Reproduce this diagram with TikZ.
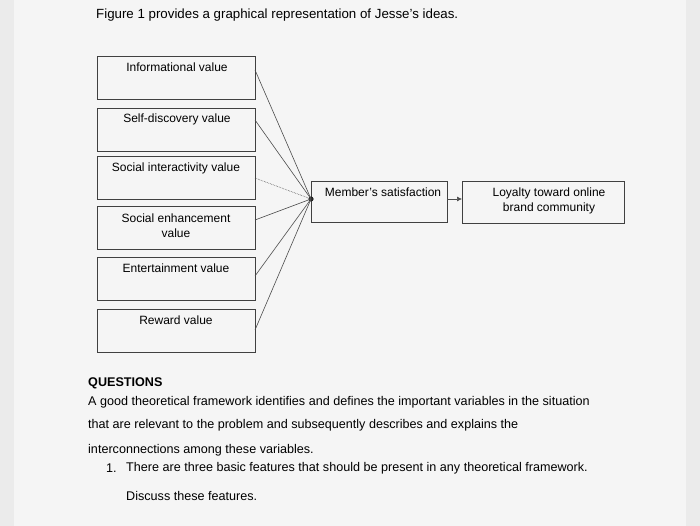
\documentclass[tikz,border=0pt]{standalone}
\usepackage{fontspec}
\setmainfont{Liberation Sans}
\usetikzlibrary{arrows.meta}
\begin{document}
\begin{tikzpicture}[x=1pt,y=-1pt,
  vbox/.style={draw=black!75,line width=0.8pt},
  lbl/.style={font=\fontsize{12}{15}\selectfont,align=center,inner sep=0pt},
  txt/.style={font=\fontsize{12.6}{15}\selectfont,anchor=west,inner sep=0pt},
  conn/.style={draw=black!70,line width=0.6pt}]
\fill[black!8] (0,0) rectangle (700,526);
\fill[white!96!black] (14,0) rectangle (686,526);
\node[txt,font=\fontsize{13.3}{15}\selectfont] (title) at (96,15) {Figure 1 provides a graphical representation of Jesse's ideas.};
\foreach \n/\y in {a/56,b/108,c/156,d/206,e/257,f/309}{
  \draw[vbox] (97,\y) rectangle (255,\y+43);
  \coordinate (\n) at (255,\y+22);
}
\node[lbl] (la) at (177,67) {Informational value};
\node[lbl] (lb) at (177,119) {Self-discovery value};
\node[lbl] (lc) at (176,168) {Social interactivity value};
\node[lbl] (ld) at (176,226) {Social enhancement\\value};
\node[lbl] (le) at (176,268) {Entertainment value};
\node[lbl] (lf) at (176,320) {Reward value};
\draw[vbox] (311,181) rectangle (447,222);
\node[lbl] (ms) at (383,192) {Member's satisfaction};
\draw[vbox] (462,181) rectangle (624,223);
\node[lbl] (loy) at (549,201) {Loyalty toward online\\brand community};
\coordinate (hub) at (311,199);
\fill[black!85] (hub) circle (2.6);
\foreach \n/\yy in {a/70,b/120,d/220,e/276,f/330}{
  \coordinate (s\n) at (255,\yy);
  \draw[conn] (s\n) -- (hub);
}
\coordinate (sc) at (255,178);
\draw[conn,densely dotted] (sc) -- (hub);
\coordinate (m1) at (447,199); \coordinate (m2) at (462,199);
\draw[conn,-{Latex[length=5pt,width=5pt]}] (m1) -- (m2);
\node[txt,font=\bfseries\fontsize{12.6}{15}\selectfont] (q) at (88,383) {QUESTIONS};
\node[txt] (p1) at (88,402) {A good theoretical framework identifies and defines the important variables in the situation};
\node[txt] (p2) at (88,425) {that are relevant to the problem and subsequently describes and explains the};
\node[txt] (p3) at (88,450) {interconnections among these variables.};
\node[txt] (n1) at (106,468) {1.};
\node[txt] (p4) at (126,468) {There are three basic features that should be present in any theoretical framework.};
\node[txt] (p5) at (126,496) {Discuss these features.};
\end{tikzpicture}
\end{document}
